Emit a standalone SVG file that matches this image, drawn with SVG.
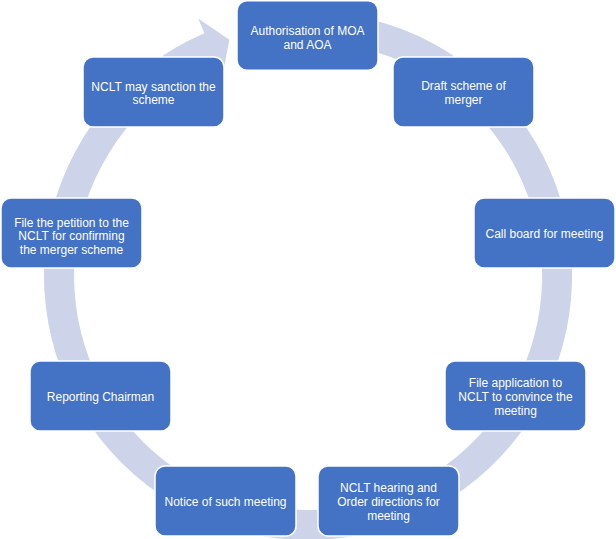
<svg xmlns="http://www.w3.org/2000/svg" width="616" height="539" viewBox="0 0 616 539">
<style>
.box{fill:#4472C4;stroke:#FFFFFF;stroke-width:1.5}
.t{font-family:"Liberation Sans",Arial,sans-serif;font-size:12px;fill:#FFFFFF;text-anchor:middle}
.ring{fill:#CDD4EA;stroke:none}
</style>
<rect width="616" height="539" fill="#FFFFFF"/>
<g id="connectors">
<path class="ring" d="M 308 12 A 264 264 0 1 1 204.4 33.2 L 198.2 18.5 L 229.4 39.7 L 222.5 75.5 L 216.2 60.8 A 234 234 0 1 0 308 42 Z"/>
</g>
<g id="n1"><rect class="box" x="237" y="0.75" width="141" height="69.5" rx="10"/><text class="t" x="307.5" y="34.5">Authorisation of MOA</text><text class="t" x="307.5" y="48.5">and AOA</text></g>
<g id="n2"><rect class="box" x="393" y="57" width="141" height="70" rx="10"/><text class="t" x="463.5" y="89.5">Draft scheme of</text><text class="t" x="463.5" y="103.5">merger</text></g>
<g id="n3"><rect class="box" x="474" y="198" width="141" height="70" rx="10"/><text class="t" x="544.5" y="237.5">Call board for meeting</text></g>
<g id="n4"><rect class="box" x="445" y="361" width="141" height="70" rx="10"/><text class="t" x="515.5" y="387">File application to</text><text class="t" x="515.5" y="401">NCLT to convince the</text><text class="t" x="515.5" y="415">meeting</text></g>
<g id="n5"><rect class="box" x="318" y="466" width="141" height="70" rx="10"/><text class="t" x="388.5" y="491.5">NCLT hearing and</text><text class="t" x="388.5" y="505.5">Order directions for</text><text class="t" x="388.5" y="519.5">meeting</text></g>
<g id="n6"><rect class="box" x="155" y="466" width="141" height="70" rx="10"/><text class="t" x="225.5" y="505.5">Notice of such meeting</text></g>
<g id="n7"><rect class="box" x="30" y="361" width="141" height="70" rx="10"/><text class="t" x="100.5" y="400.5">Reporting Chairman</text></g>
<g id="n8"><rect class="box" x="1" y="198" width="141" height="70" rx="10"/><text class="t" x="71.5" y="226.5">File the petition to the</text><text class="t" x="71.5" y="240">NCLT for confirming</text><text class="t" x="71.5" y="253.5">the merger scheme</text></g>
<g id="n9"><rect class="box" x="83" y="57" width="141" height="70" rx="10"/><text class="t" x="153.5" y="90.5">NCLT may sanction the</text><text class="t" x="153.5" y="104">scheme</text></g>
</svg>
